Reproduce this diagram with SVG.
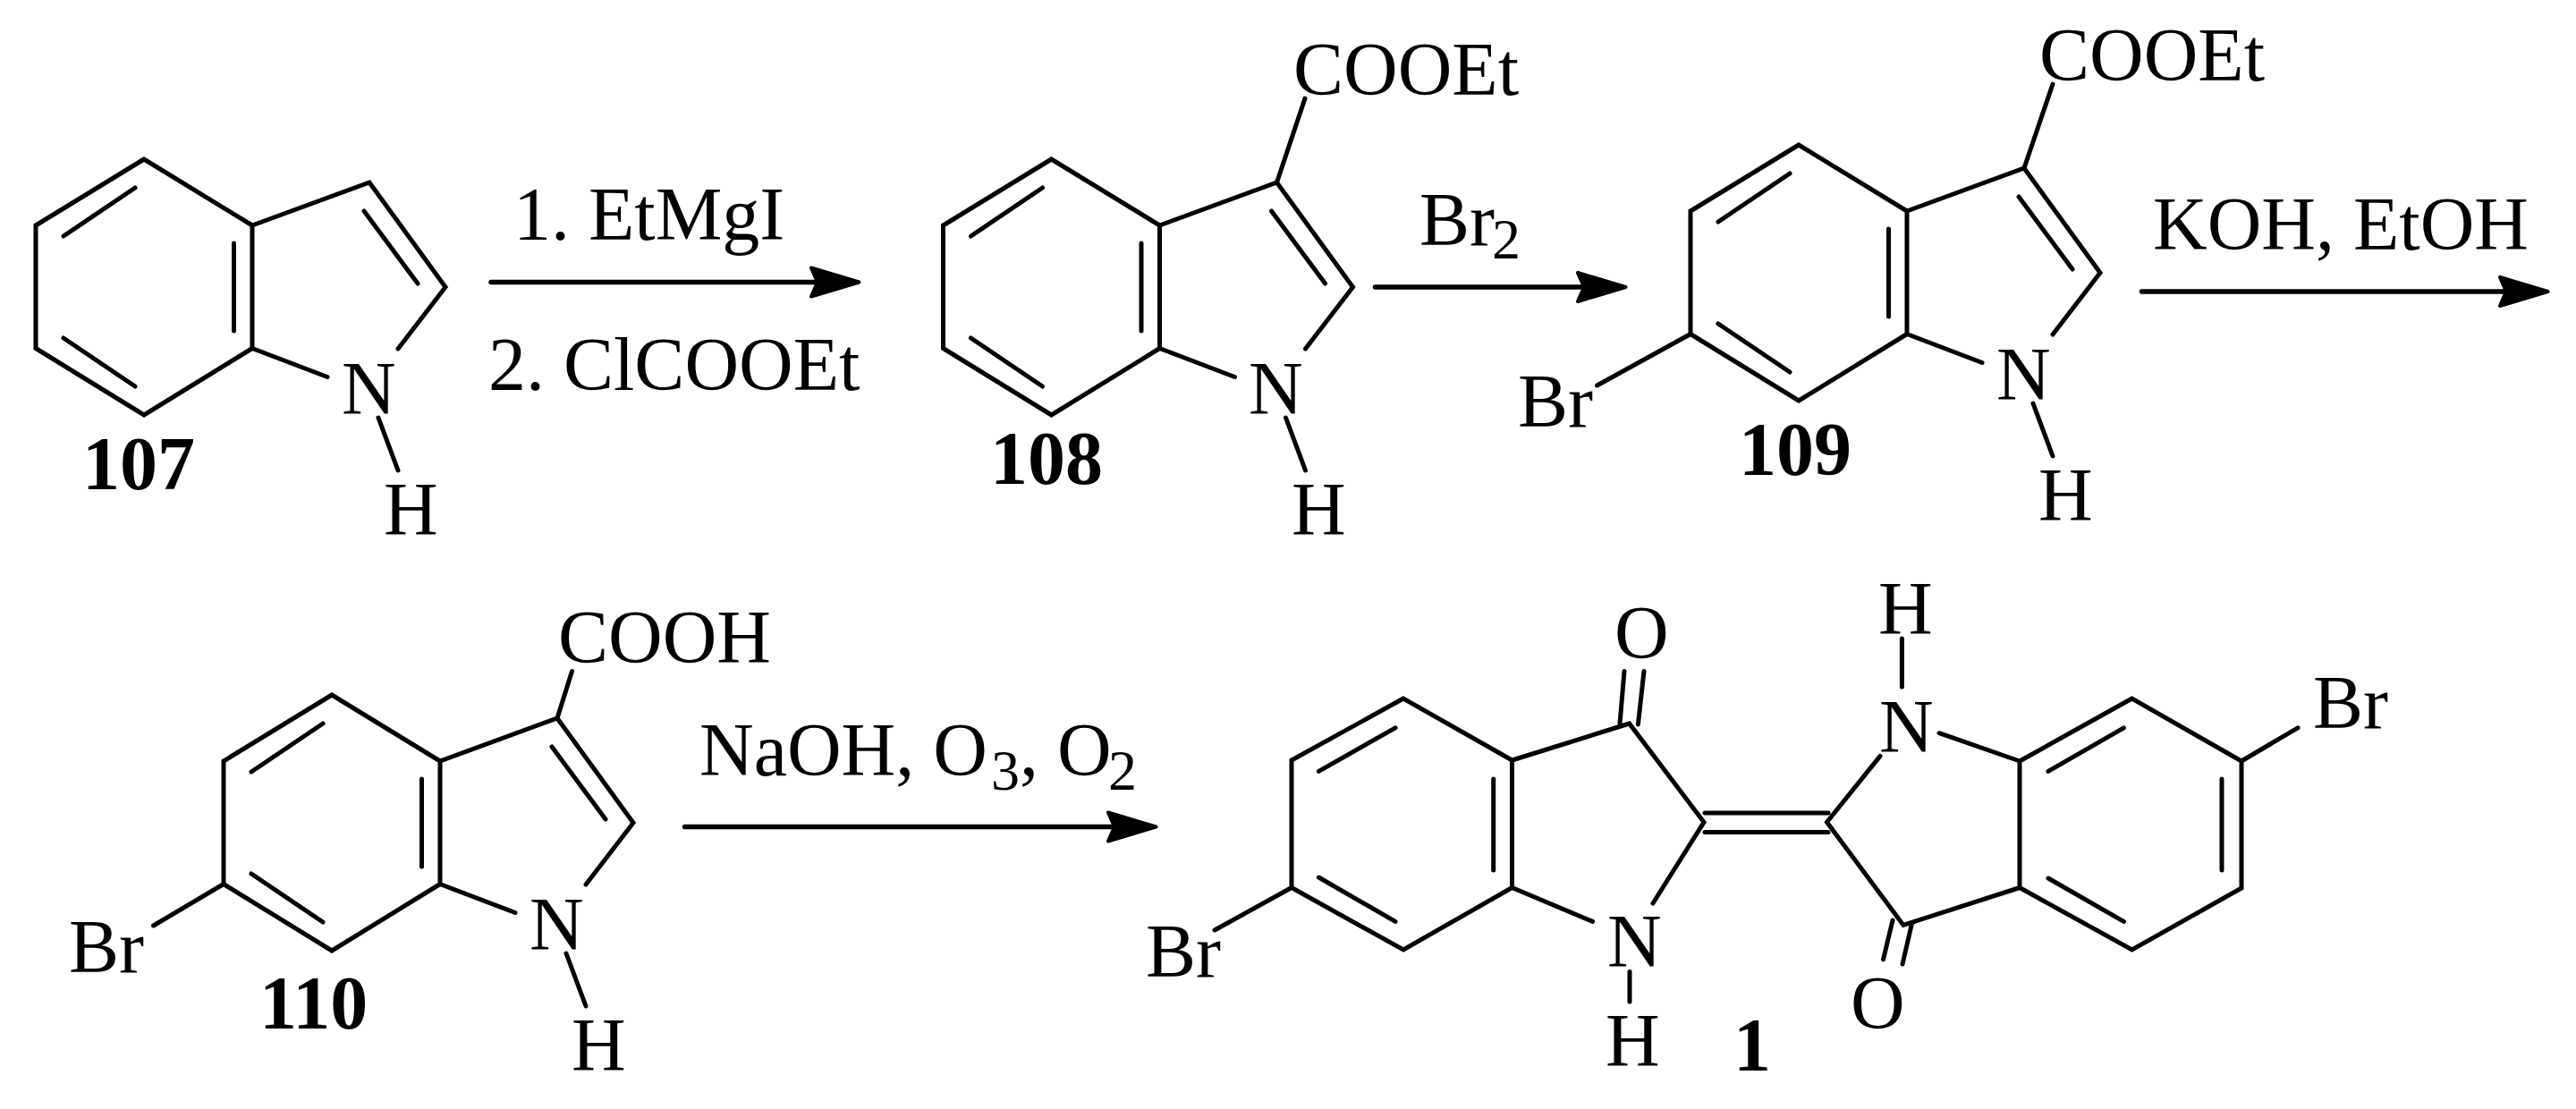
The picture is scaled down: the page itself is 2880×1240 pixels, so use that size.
<svg xmlns="http://www.w3.org/2000/svg" width="2880" height="1240" viewBox="0 0 2880 1240">
<style>
.b{fill:none;stroke:#000;stroke-width:5;stroke-linecap:round;stroke-linejoin:miter}
.a{fill:none;stroke:#000;stroke-width:5.5;stroke-linecap:round}
text{font-family:"Liberation Serif","Times New Roman",serif;font-size:84px;fill:#000}
.n{font-weight:bold}
.s{font-size:64px}
</style>
<defs>
<marker id="head" markerUnits="userSpaceOnUse" markerWidth="64" markerHeight="44" viewBox="-2 -22 64 44" refX="10" refY="0" orient="auto">
<path d="M2,-16 L9,0 L2,16 L55.5,0 Z" fill="#000" stroke="#000" stroke-width="4" stroke-linejoin="round"/>
</marker>
<path id="indole" class="b" d="M161,178 L40,252 L40,389.5 L161,464 L282,389.5 L282,252 Z M282,252 L413,204 L498,321 L445,390 M282,389.5 L366,421.5 M151,210 L71,264 M71,378 L151,432 M261.5,272 L261.5,370 M407,236 L467,317 M423,467 L445,526"/>
</defs>
<rect width="2880" height="1240" fill="#fff"/>

<g id="compound-107">
<use href="#indole"/>
<text x="382" y="463">N</text>
<text x="429" y="598">H</text>
<text class="n" x="92" y="547">107</text>
</g>

<g id="compound-108">
<use href="#indole" x="1014.5"/>
<path class="b" d="M1427.5,204 L1459,110"/>
<text x="1396" y="463">N</text>
<text x="1444" y="598">H</text>
<text x="1446" y="106">COOEt</text>
<text class="n" x="1107" y="541">108</text>
</g>

<g id="compound-109">
<use href="#indole" x="1850" y="-16"/>
<path class="b" d="M2263,188 L2295,94 M1890,373.5 L1785.5,431"/>
<text x="2232" y="447">N</text>
<text x="2279" y="582">H</text>
<text x="2280" y="90">COOEt</text>
<text x="1697" y="477">Br</text>
<text class="n" x="1944" y="531">109</text>
</g>

<g id="compound-110">
<use href="#indole" x="210" y="599"/>
<path class="b" d="M623,803 L639.5,750.5 M250,988.5 L171.5,1035"/>
<text x="592" y="1062">N</text>
<text x="639" y="1197">H</text>
<text x="624" y="740.6">COOH</text>
<text x="77" y="1086.6">Br</text>
<text class="n" x="290" y="1150">110</text>
</g>

<g id="compound-1">
<path class="b" d="M1569,781 L1444,850 L1444,992.5 L1569,1062 L1690.5,992.5 L1690.5,850 Z M1690.5,850 L1821.6,809 L1905,919.3 L1848,1010 M1690.5,992.5 L1780.6,1030.4 M1560,813.8 L1474.4,862.4 M1474.4,981 L1560,1030.4 M1669.7,871 L1669.7,973 M1811,809 L1816,750.5 M1831.4,810 L1838,750.5 M1444,992.5 L1358,1040 M1822,1086.6 L1822,1120"/>
<path class="b" d="M1906,909 L2044,909 M1906,930.4 L2044,930.4"/>
<path class="b" d="M2383.6,781 L2258,851 L2258,992.5 L2383.6,1062 L2506,993 L2506,851 Z M2102,845.4 L2042.5,919.3 L2128,1034.4 L2258,992.5 M2168,819.7 L2258,851 M2374.4,813.8 L2290,862.4 M2484,871 L2484,973 M2290,982 L2374.4,1030.4 M2116,1029 L2105.5,1072.8 M2137.4,1033 L2127,1078 M2126.4,768 L2126.4,714 M2506,851 L2569,813.8"/>
<text x="1805" y="736">O</text>
<text x="1281" y="1091.7">Br</text>
<text x="1797" y="1081.4">N</text>
<text x="1795" y="1192">H</text>
<text x="2101" y="840.6">N</text>
<text x="2100" y="708.6">H</text>
<text x="2069" y="1150">O</text>
<text x="2586" y="813.8">Br</text>
<text class="n" x="1938" y="1197">1</text>
</g>

<g id="connectors">
<line class="a" x1="549" y1="315.5" x2="915" y2="315.5" marker-end="url(#head)"/>
<line class="a" x1="1537.5" y1="321" x2="1772" y2="321" marker-end="url(#head)"/>
<line class="a" x1="2394.5" y1="326" x2="2803" y2="326" marker-end="url(#head)"/>
<line class="a" x1="765.5" y1="924.5" x2="1247" y2="924.5" marker-end="url(#head)"/>
</g>

<g id="reagents">
<text x="574" y="268">1. EtMgI</text>
<text x="546" y="436">2. ClCOOEt</text>
<text x="1587" y="273.6">Br</text><text class="s" x="1668" y="288.6">2</text>
<text x="2407" y="279">KOH, EtOH</text>
<text x="782" y="867">NaOH, O</text><text class="s" x="1108" y="883">3</text><text x="1140" y="867">, O</text><text class="s" x="1239" y="883">2</text>
</g>
</svg>
